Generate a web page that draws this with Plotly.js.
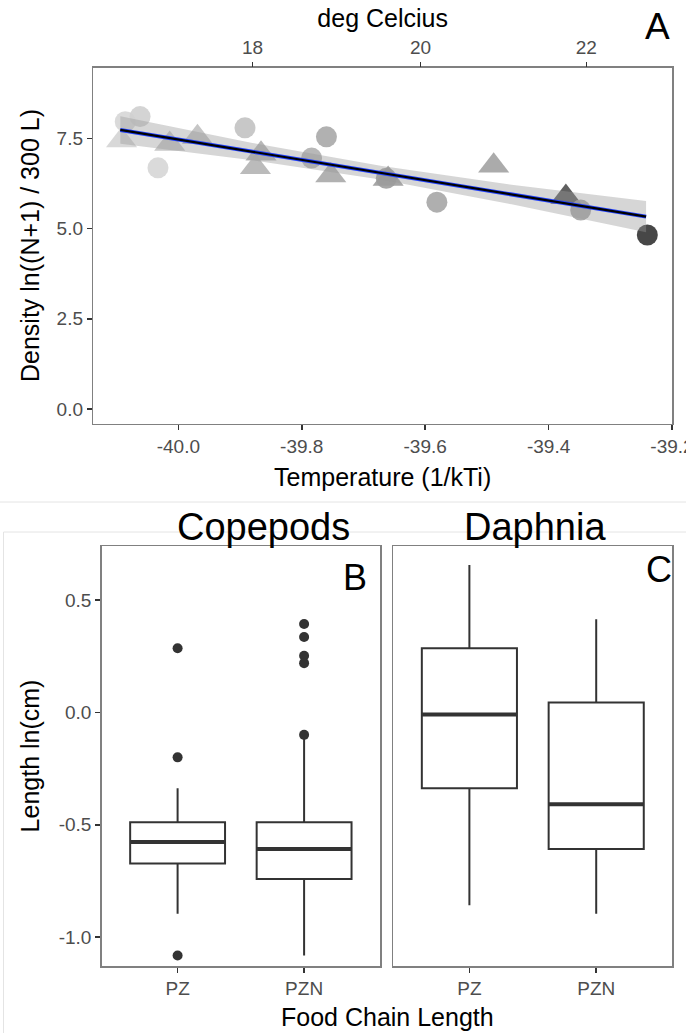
<!DOCTYPE html>
<html>
<head>
<meta charset="utf-8">
<script src="https://cdn.plot.ly/plotly-3.0.1.min.js"></script>
<style>
  html, body { margin: 0; padding: 0; background: #ffffff; }
  #chart { width: 686px; height: 1033px; }
</style>
</head>
<body>
<div id="chart"></div>
<script>
// ---------------- Panel A : density vs temperature ----------------
const tempX = [-40.092, -40.086, -40.062, -40.033, -40.014, -39.969, -39.892, -39.866, -39.875,
               -39.760, -39.784, -39.753, -39.660, -39.663, -39.489, -39.581, -39.372, -39.348, -39.240];
const densityY = [7.44, 7.96, 8.10, 6.68, 7.34, 7.53, 7.79, 7.07, 6.70,
                  7.54, 6.95, 6.47, 6.37, 6.39, 6.74, 5.73, 5.87, 5.51, 4.82];
const pointShape = ['triangle-up', 'circle', 'circle', 'circle', 'triangle-up', 'triangle-up', 'circle',
                    'triangle-up', 'triangle-up', 'circle', 'circle', 'triangle-up', 'triangle-up', 'circle',
                    'triangle-up', 'circle', 'triangle-up', 'circle', 'circle'];
const pointGray = ['#d4d4d4', '#d6d6d6', '#cfcfcf', '#d6d6d6', '#c4c4c4', '#c0c0c0', '#c2c2c2',
                   '#b0b0b0', '#b4b4b4', '#a9a9a9', '#b0b0b0', '#a8a8a8', '#9c9c9c', '#9c9c9c',
                   '#a2a2a2', '#a6a6a6', '#4f4f4f', '#a3a3a3', '#333333'];
// fitted line and its confidence band
const fitX = [-40.094, -39.242];
const fitY = [7.73, 5.33];
const ciX = [-40.094, -39.88, -39.67, -39.46, -39.242];
const ciLower = [7.35, 6.89, 6.35, 5.67, 4.90];
const ciUpper = [8.11, 7.37, 6.73, 6.21, 5.76];
// axes
const xTickVals = [-40.0, -39.8, -39.6, -39.4, -39.2];
const xTickText = ['-40.0', '-39.8', '-39.6', '-39.4', '-39.2'];
const celsiusTicks = [18, 20, 22];
const yTickValsA = [0, 2.5, 5, 7.5];
const yTickTextA = ['0.0', '2.5', '5.0', '7.5'];

// ---------------- Panels B, C : body length boxplots ----------------
const foodChain = ['PZ', 'PZN'];
const copLowerFence = [-0.896, -1.081];
const copQ1 = [-0.672, -0.741];
const copMedian = [-0.576, -0.608];
const copQ3 = [-0.489, -0.489];
const copUpperFence = [-0.337, -0.110];
const copOutlierGroup = ['PZ', 'PZ', 'PZ', 'PZN', 'PZN', 'PZN', 'PZN', 'PZN'];
const copOutlierY = [0.285, -0.200, -1.081, 0.393, 0.335, 0.252, 0.219, -0.100];

const dapLowerFence = [-0.858, -0.896];
const dapQ1 = [-0.337, -0.608];
const dapMedian = [-0.009, -0.409];
const dapQ3 = [0.285, 0.044];
const dapUpperFence = [0.656, 0.414];
const yTickValsBC = [-1.0, -0.5, 0.0, 0.5];
const yTickTextBC = ['-1.0', '-0.5', '0.0', '0.5'];

// ---------------- drawing ----------------
const FONT = 'Liberation Sans, Arial, Helvetica, sans-serif';
const W = 686, H = 1033;
const fx = p => p / W;
const fy = p => 1 - p / H;
const catPos = foodChain.map((_, i) => i + 1);
const boxW = 0.75;
const posOf = g => foodChain.indexOf(g) + 1;

const tickFont = { family: FONT, size: 19, color: '#4d4d4d' };
const titleFont = { family: FONT, size: 25, color: '#000000' };
const baseAxis = {
  showline: true, linecolor: '#808080', linewidth: 1.5, mirror: true,
  ticks: 'outside', ticklen: 5, tickwidth: 1.5, tickcolor: '#333333',
  showgrid: false, zeroline: false, tickfont: tickFont, fixedrange: true,
  ticklabeloverflow: 'allow'
};

function medianSegments(medians) {
  const xs = [], ys = [];
  medians.forEach((m, i) => {
    xs.push(catPos[i] - boxW / 2, catPos[i] + boxW / 2, null);
    ys.push(m, m, null);
  });
  return { xs, ys };
}

const traces = [];
// Panel A points
traces.push({
  type: 'scatter', mode: 'markers', x: tempX, y: densityY, xaxis: 'x', yaxis: 'y',
  marker: {
    symbol: pointShape,
    size: pointShape.map(s => s === 'circle' ? 21 : 27),
    color: pointGray, opacity: 0.9, line: { width: 0 }
  },
  hoverinfo: 'x+y', showlegend: false
});
// confidence band
traces.push({
  type: 'scatter', mode: 'lines', x: ciX, y: ciLower, xaxis: 'x', yaxis: 'y',
  line: { width: 0, color: 'rgba(0,0,0,0)' }, hoverinfo: 'skip', showlegend: false
});
traces.push({
  type: 'scatter', mode: 'lines', x: ciX, y: ciUpper, xaxis: 'x', yaxis: 'y',
  line: { width: 0, color: 'rgba(0,0,0,0)' }, fill: 'tonexty', fillcolor: 'rgba(153,153,153,0.4)',
  hoverinfo: 'skip', showlegend: false
});
// fitted line (blue edge with black core)
traces.push({
  type: 'scatter', mode: 'lines', x: fitX, y: fitY, xaxis: 'x', yaxis: 'y',
  line: { width: 4, color: '#1f3fff' }, hoverinfo: 'skip', showlegend: false
});
traces.push({
  type: 'scatter', mode: 'lines', x: fitX, y: fitY, xaxis: 'x', yaxis: 'y',
  line: { width: 2.2, color: '#000000' }, hoverinfo: 'skip', showlegend: false
});
// invisible trace for the top (Celsius) axis
traces.push({
  type: 'scatter', mode: 'markers', x: [xTickVals[0]], y: [yTickValsA[0]], xaxis: 'x2', yaxis: 'y',
  marker: { opacity: 0 }, hoverinfo: 'skip', showlegend: false
});

// Panel B - Copepods
traces.push({
  type: 'box', x: catPos, xaxis: 'x3', yaxis: 'y3',
  q1: copQ1, median: copMedian, q3: copQ3, lowerfence: copLowerFence, upperfence: copUpperFence,
  width: boxW, whiskerwidth: 0, fillcolor: '#ffffff', line: { color: '#333333', width: 2 },
  boxpoints: false, showlegend: false
});
const copMed = medianSegments(copMedian);
traces.push({
  type: 'scatter', mode: 'lines', x: copMed.xs, y: copMed.ys, xaxis: 'x3', yaxis: 'y3',
  line: { color: '#333333', width: 4 }, hoverinfo: 'skip', showlegend: false
});
traces.push({
  type: 'scatter', mode: 'markers', x: copOutlierGroup.map(posOf), y: copOutlierY, xaxis: 'x3', yaxis: 'y3',
  marker: { color: '#333333', size: 10 }, showlegend: false
});

// Panel C - Daphnia
traces.push({
  type: 'box', x: catPos, xaxis: 'x4', yaxis: 'y4',
  q1: dapQ1, median: dapMedian, q3: dapQ3, lowerfence: dapLowerFence, upperfence: dapUpperFence,
  width: boxW, whiskerwidth: 0, fillcolor: '#ffffff', line: { color: '#333333', width: 2 },
  boxpoints: false, showlegend: false
});
const dapMed = medianSegments(dapMedian);
traces.push({
  type: 'scatter', mode: 'lines', x: dapMed.xs, y: dapMed.ys, xaxis: 'x4', yaxis: 'y4',
  line: { color: '#333333', width: 4 }, hoverinfo: 'skip', showlegend: false
});

const xRangeA = [-40.1378, -39.2];
const yRangeBC = [-1.128, 0.740];

const layout = {
  width: W, height: H,
  margin: { l: 0, r: 0, t: 0, b: 0, pad: 0 },
  paper_bgcolor: '#ffffff', plot_bgcolor: '#ffffff',
  font: { family: FONT },
  showlegend: false,
  xaxis: Object.assign({}, baseAxis, {
    domain: [fx(93.3), fx(672)], anchor: 'y', range: xRangeA,
    tickvals: xTickVals, ticktext: xTickText,
    title: { text: 'Temperature (1/kTi)', font: titleFont, standoff: 12 }
  }),
  xaxis2: Object.assign({}, baseAxis, {
    overlaying: 'x', side: 'top', anchor: 'y', range: xRangeA, showline: false, mirror: false,
    tickvals: celsiusTicks.map(c => -1 / (8.617e-5 * (c + 273))),
    ticktext: celsiusTicks.map(String),
    title: { text: 'deg Celcius', font: titleFont, standoff: 2 }
  }),
  yaxis: Object.assign({}, baseAxis, {
    domain: [fy(423.5), fy(67.5)], anchor: 'x', range: [-0.40, 9.46],
    tickvals: yTickValsA, ticktext: yTickTextA,
    title: { text: 'Density ln((N+1) / 300 L)', font: titleFont, standoff: 10 }
  }),
  xaxis3: Object.assign({}, baseAxis, {
    domain: [fx(101.7), fx(380)], anchor: 'y3', range: [0.4, 2.6],
    tickvals: catPos, ticktext: foodChain
  }),
  yaxis3: Object.assign({}, baseAxis, {
    domain: [fy(966), fy(546)], anchor: 'x3', range: yRangeBC,
    tickvals: yTickValsBC, ticktext: yTickTextBC,
    title: { text: 'Length ln(cm)', font: titleFont, standoff: 12 }
  }),
  xaxis4: Object.assign({}, baseAxis, {
    domain: [fx(393.3), fx(672.3)], anchor: 'y4', range: [0.4, 2.6],
    tickvals: catPos, ticktext: foodChain
  }),
  yaxis4: Object.assign({}, baseAxis, {
    domain: [fy(966), fy(546)], anchor: 'x4', range: yRangeBC,
    ticks: '', showticklabels: false
  }),
  shapes: [
    { type: 'line', xref: 'paper', yref: 'paper', x0: 0, x1: 1, y0: fy(502), y1: fy(502),
      line: { color: '#e4e4e4', width: 1 } },
    { type: 'line', xref: 'paper', yref: 'paper', x0: fx(3.5), x1: 1, y0: fy(532), y1: fy(532),
      line: { color: '#e4e4e4', width: 1 } },
    { type: 'line', xref: 'paper', yref: 'paper', x0: fx(3.5), x1: fx(3.5), y0: 0, y1: fy(532),
      line: { color: '#e4e4e4', width: 1 } }
  ],
  annotations: [
    { text: 'A', xref: 'paper', yref: 'paper', x: fx(657.5), y: fy(26.5), xanchor: 'center', yanchor: 'middle',
      showarrow: false, font: { family: FONT, size: 37, color: '#000' } },
    { text: 'B', xref: 'paper', yref: 'paper', x: fx(355), y: fy(577), xanchor: 'center', yanchor: 'middle',
      showarrow: false, font: { family: FONT, size: 36, color: '#000' } },
    { text: 'C', xref: 'paper', yref: 'paper', x: fx(658.5), y: fy(569), xanchor: 'center', yanchor: 'middle',
      showarrow: false, font: { family: FONT, size: 36, color: '#000' } },
    { text: 'Copepods', xref: 'paper', yref: 'paper', x: fx(263), y: fy(527), xanchor: 'center', yanchor: 'middle',
      showarrow: false, font: { family: FONT, size: 38, color: '#000' } },
    { text: 'Daphnia', xref: 'paper', yref: 'paper', x: fx(535), y: fy(527), xanchor: 'center', yanchor: 'middle',
      showarrow: false, font: { family: FONT, size: 38, color: '#000' } },
    { text: 'Food Chain Length', xref: 'paper', yref: 'paper', x: fx(387), y: fy(1017), xanchor: 'center', yanchor: 'middle',
      showarrow: false, font: titleFont }
  ]
};

Plotly.newPlot('chart', traces, layout, { displayModeBar: false, staticPlot: true });
</script>
</body>
</html>
